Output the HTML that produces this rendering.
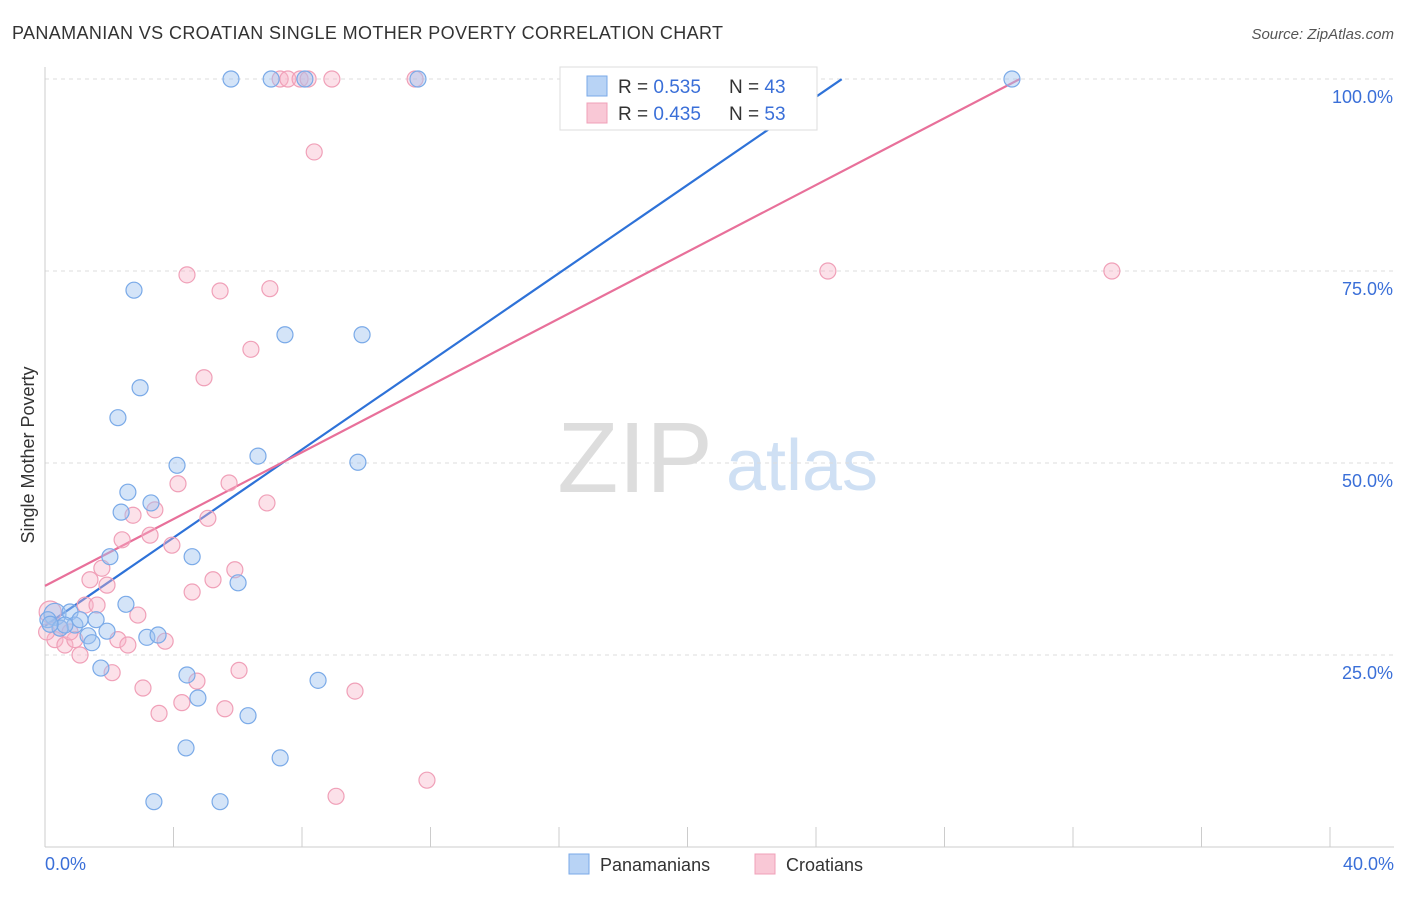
<!DOCTYPE html>
<html><head><meta charset="utf-8"><style>
body{margin:0;background:#fff;font-family:"Liberation Sans",sans-serif;}
svg text{font-family:"Liberation Sans",sans-serif;}
</style></head><body>
<svg width="1406" height="892" xmlns="http://www.w3.org/2000/svg">
<text x="12" y="39" font-size="18" fill="#333" textLength="711">PANAMANIAN VS CROATIAN SINGLE MOTHER POVERTY CORRELATION CHART</text>
<text x="1394" y="39" font-size="15" fill="#555" text-anchor="end" font-style="italic">Source: ZipAtlas.com</text>
<g>
<text x="635" y="492" font-size="100" fill="#ddd" text-anchor="middle" font-family="Liberation Serif,serif">ZIP</text>
<text x="802" y="490" font-size="72" fill="#cfe0f4" text-anchor="middle">atlas</text></g>
<g id="grid"></g><g id="axes"></g><g id="lines"></g><g id="pts"></g>
<text transform="translate(34,455) rotate(-90)" font-size="18" fill="#333" text-anchor="middle">Single Mother Poverty</text>
<text x="45" y="870" font-size="18" fill="#3a6fd8">0.0%</text>
<text x="1394" y="870" font-size="18" fill="#3a6fd8" text-anchor="end">40.0%</text>
<g>
<rect x="560" y="67" width="257" height="63" fill="#fff" stroke="#ddd"/>
<rect x="587" y="76" width="20" height="20" fill="#b8d3f5" stroke="#7aaae8"/>
<rect x="587" y="103" width="20" height="20" fill="#f9c8d6" stroke="#f0a0b8"/>
<text x="618" y="93" font-size="19" fill="#333">R = <tspan fill="#3a6fd8">0.535</tspan></text>
<text x="729" y="93" font-size="19" fill="#333">N = <tspan fill="#3a6fd8">43</tspan></text>
<text x="618" y="120" font-size="19" fill="#333">R = <tspan fill="#3a6fd8">0.435</tspan></text>
<text x="729" y="120" font-size="19" fill="#333">N = <tspan fill="#3a6fd8">53</tspan></text>
</g>
<g>
<rect x="569" y="854" width="20" height="20" fill="#b8d3f5" stroke="#7aaae8"/>
<text x="600" y="871" font-size="18" fill="#333">Panamanians</text>
<rect x="755" y="854" width="20" height="20" fill="#f9c8d6" stroke="#f0a0b8"/>
<text x="786" y="871" font-size="18" fill="#333">Croatians</text>
</g>
</svg>
<script>
const yTicks=[25,50,75,100];
const yTickLabels=["25.0%","50.0%","75.0%","100.0%"];
const xTicks=[0,4,8,12,16,20,24,28,32,36,40];
const blueX=[0.31,0.09,0.78,0.93,1.34,1.46,1.59,1.74,1.93,2.02,2.27,2.37,2.52,2.58,2.77,2.96,3.17,3.30,3.39,3.52,4.11,4.39,4.42,4.58,4.76,5.45,5.79,6.01,6.32,6.63,7.04,7.32,7.47,8.09,8.50,9.74,9.87,11.61,30.1,1.09,0.47,0.62,0.16];
const blueY=[30.3,29.6,30.6,28.9,27.5,26.6,29.6,23.3,28.1,37.8,55.9,43.6,31.6,46.2,72.5,59.8,27.3,44.8,5.9,27.6,49.7,12.9,22.4,37.8,19.4,5.9,100,34.4,17.1,50.9,100,11.6,66.7,100,21.7,50.1,66.7,100,100,29.6,28.5,28.9,29.0];
const pinkX=[0.16,0.31,0.62,0.93,1.09,1.25,1.40,1.62,1.77,1.93,2.09,2.27,2.40,2.58,2.74,2.89,3.05,3.27,3.42,3.55,3.74,3.95,4.14,4.26,4.42,4.58,4.73,4.95,5.07,5.23,5.45,5.60,5.73,5.91,6.04,6.41,6.91,7.00,7.32,7.56,7.94,8.19,8.38,8.93,9.06,9.65,11.52,11.89,24.37,33.21,0.47,0.78,0.05];
const pinkY=[30.6,27.0,26.3,27.0,25.0,31.5,34.8,31.5,36.3,34.1,22.7,27.0,40.0,26.3,43.2,30.2,20.7,40.6,43.9,17.4,26.8,39.3,47.3,18.8,74.5,33.2,21.6,61.1,42.8,34.8,72.4,18.0,47.4,36.1,23.0,64.8,44.8,72.7,100,100,100,100,90.5,100,6.6,20.3,100,8.7,75.0,75.0,28.5,28.0,28.0];
const blueTrend=[28.8,2.87];   // intercept, slope
const pinkTrend=[34.0,2.175];
const blueTrendEnd=24.8, pinkTrendEnd=30.35;
const NS="http://www.w3.org/2000/svg";
const sx=v=>45+v*32.125, sy=v=>847-v*7.68;
function mk(t,a,p){const e=document.createElementNS(NS,t);for(const k in a)e.setAttribute(k,a[k]);document.getElementById(p).appendChild(e);return e;}
yTicks.forEach((t,i)=>{
 const l=mk('line',{x1:45,x2:1394,y1:sy(t),y2:sy(t),stroke:'#ddd','stroke-dasharray':'4,4'},'grid');
 
 
 const tx=mk('text',{x:1393,y:sy(t)+24,'font-size':18,fill:'#3a6fd8','text-anchor':'end'},'grid');
 tx.textContent=yTickLabels[i];
 
 
});
const ax=mk('line',{x1:45,x2:45,y1:67,y2:847,stroke:'#ccc'},'axes');


const bx=mk('line',{x1:45,x2:1394,y1:847,y2:847,stroke:'#ccc'},'axes');


xTicks.forEach(t=>{
 const l=mk('line',{x1:sx(t),x2:sx(t),y1:827,y2:847,stroke:'#ccc'},'axes');
 
 
});
function pts(X,Y,fill,stroke,name){X.forEach((x,i)=>{
 const c=mk('circle',{cx:sx(x),cy:sy(Y[i]),r:i===0?11:8,fill:fill,stroke:stroke,'stroke-width':1.2},'pts');
 
 
});}
pts(pinkX,pinkY,'rgba(248,180,200,0.4)','#f0a0b8','croatian-point');
pts(blueX,blueY,'rgba(160,196,240,0.45)','#7aaae8','panamanian-point');
function trend(tr,end,col,name){
 const l=mk('line',{x1:sx(0),y1:sy(tr[0]),x2:sx(end),y2:sy(tr[0]+tr[1]*end),stroke:col,'stroke-width':2.2},'lines');
 
 
}
trend(blueTrend,blueTrendEnd,'#2e72d8','panamanian-trendline');
trend(pinkTrend,pinkTrendEnd,'#e8709a','croatian-trendline');
</script>
</body></html>
